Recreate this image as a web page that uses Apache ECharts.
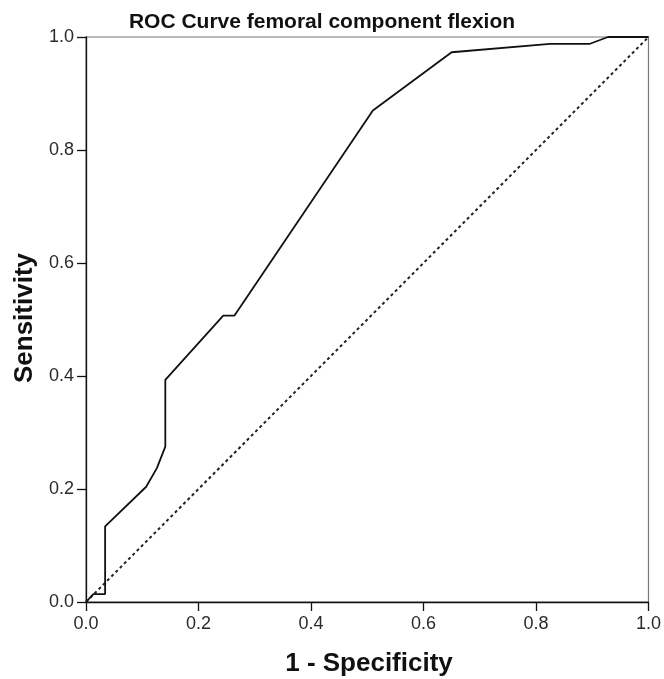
<!DOCTYPE html>
<html>
<head>
<meta charset="utf-8">
<script src="https://cdn.jsdelivr.net/npm/echarts@6/dist/echarts.min.js"></script>
<style>
html,body{margin:0;padding:0;background:#fff;}
#chart{width:664px;height:679px;}
</style>
</head>
<body>
<div id="chart"></div>
<script>
// ROC curve points (1 - Specificity, Sensitivity)
var fprValues = [0.000, 0.013, 0.034, 0.034, 0.107, 0.126, 0.141, 0.141, 0.244, 0.264, 0.510, 0.650, 0.825, 0.896, 0.928, 1.000];
var tprValues = [0.000, 0.014, 0.014, 0.134, 0.204, 0.237, 0.275, 0.393, 0.507, 0.507, 0.870, 0.973, 0.988, 0.988, 1.000, 1.000];
// Reference (chance) line
var refX = [0, 1];
var refY = [0, 1];
var tickValues = [0.0, 0.2, 0.4, 0.6, 0.8, 1.0];
var titleText = 'ROC Curve femoral component flexion';
var xAxisTitle = '1 - Specificity';
var yAxisTitle = 'Sensitivity';

var rocData = fprValues.map(function (x, i) { return [x, tprValues[i]]; });
var refData = refX.map(function (x, i) { return [x, refY[i]]; });

var FONT = '"Liberation Sans", Arial, sans-serif';
var chart = echarts.init(document.getElementById('chart'), null, {renderer: 'canvas'});

function axisCommon() {
  return {
    type: 'value', min: 0, max: 1, interval: 0.2,
    axisLine: {show: true, onZero: false, lineStyle: {color: '#111', width: 1.3}},
    axisTick: {show: true, inside: false, length: 9, lineStyle: {color: '#111', width: 1.3}},
    splitLine: {show: false},
    axisLabel: {
      color: '#2a2a2a', fontSize: 18, fontFamily: FONT,
      formatter: function (v) { return tickValues.indexOf(Math.round(v * 10) / 10) >= 0 ? v.toFixed(1) : ''; }
    }
  };
}

var xa = axisCommon(); xa.axisLabel.margin = 13;
var ya = axisCommon(); ya.axisLabel.margin = 12;

chart.setOption({
  animation: false,
  backgroundColor: '#fff',
  grid: {left: 86, right: 13, top: 37, bottom: 77, show: true, borderColor: '#777', borderWidth: 1.2, backgroundColor: 'transparent'},
  xAxis: xa,
  yAxis: ya,
  series: [
    {
      type: 'line', data: refData, showSymbol: false, silent: true,
      lineStyle: {color: '#222', width: 2, type: [3, 3]}
    },
    {
      type: 'line', data: rocData, showSymbol: false, silent: true,
      lineStyle: {color: '#111', width: 1.8}
    }
  ],
  graphic: [
    {type: 'text', x: 322, y: 22, style: {text: titleText, font: 'bold 21px ' + FONT, fill: '#111', align: 'center', verticalAlign: 'middle'}},
    {type: 'text', x: 369, y: 664, style: {text: xAxisTitle, font: 'bold 26px ' + FONT, fill: '#111', align: 'center', verticalAlign: 'middle'}},
    {type: 'text', x: 25, y: 318, rotation: Math.PI / 2, style: {text: yAxisTitle, font: 'bold 26px ' + FONT, fill: '#111', align: 'center', verticalAlign: 'middle'}}
  ]
});
</script>
</body>
</html>
